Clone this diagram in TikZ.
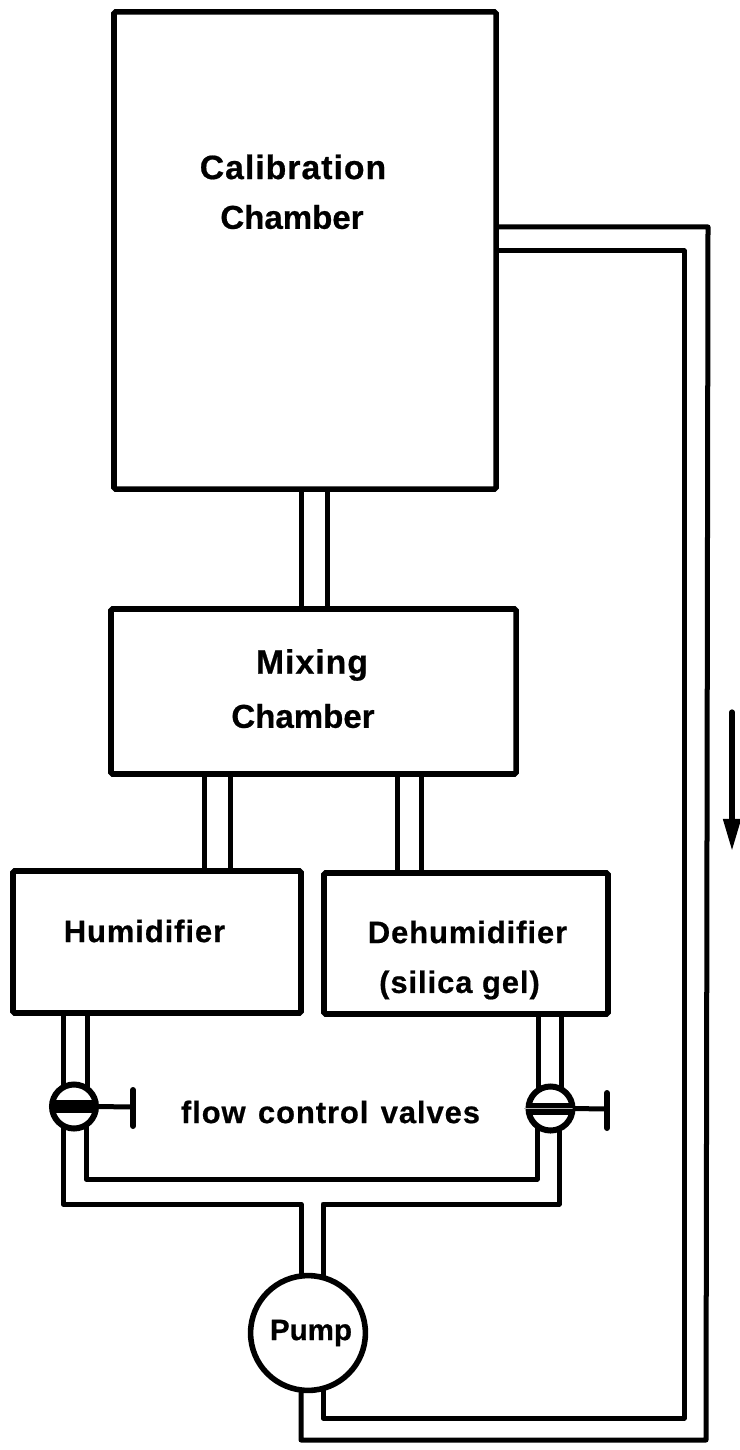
\documentclass[tikz,border=0pt]{standalone}
\usepackage{fontspec}
\setmainfont[LetterSpace=3,BoldFeatures={FakeBold=0.6}]{Liberation Sans}
\usetikzlibrary{arrows.meta}
\tikzset{
    chamber/.style={draw, line width=1.4mm, rounded corners=0.4mm, inner sep=0pt, outer sep=0pt, fill=white},
    lbl/.style={font=\bfseries\fontsize{24}{24}\selectfont, inner sep=0pt},
    lbltight/.style={font=\bfseries\addfontfeatures{LetterSpace=0}\fontsize{23.5}{24}\selectfont, inner sep=0pt},
    lblsmall/.style={font=\bfseries\fontsize{22}{22}\selectfont, inner sep=0pt},
    pipe/.style={line width=1.25mm, line join=round},
    valve/.style={circle, draw, line width=1.5mm, fill=white, minimum size=1.1cm, inner sep=0pt, outer sep=0pt},
    pump/.style={circle, draw, line width=1.4mm, fill=white, minimum size=2.87cm, inner sep=0pt, outer sep=0pt},
}
\begin{document}
\begin{tikzpicture}[x=0.025cm, y=-0.025cm]
    \useasboundingbox (0,0) rectangle (740,1450);

    \node[chamber, minimum width=9.55cm, minimum height=11.925cm] (calib) at (305,250.5) {};
    \node[chamber, minimum width=10.125cm, minimum height=4.125cm] (mixing) at (313.5,691.5) {};
    \node[chamber, minimum width=7.2cm, minimum height=3.55cm] (humid) at (157,942) {};
    \node[chamber, minimum width=7.1cm, minimum height=3.525cm] (dehumid) at (466,943.5) {};
    \node[pump] (pump) at (308,1333) {};
    \node[valve] (lvalve) at (74,1106.5) {};
    \node[valve] (rvalve) at (550.5,1108.5) {};

    \node[lbl] (calibtxt) at (293,167) {Calibration};
    \node[lbltight] (calibtxt2) at (292,217) {Chamber};
    \node[lbl] (mixtxt) at (312,665) {Mixing};
    \node[lbltight] (mixtxt2) at (303,716) {Chamber};
    \node[lblsmall] (humtxt) at (144.5,931) {Humidifier};
    \node[lblsmall] (dehumtxt) at (467.5,932) {Dehumidifier};
    \node[lblsmall] (silicatxt) at (459.5,985) {(silica gel)};
    \node[lblsmall] (flowtxt) at (330.5,1112) {flow\hspace{2pt} control\hspace{2pt} valves};
    \node[font=\bfseries\addfontfeatures{LetterSpace=0}\fontsize{21}{21}\selectfont, inner sep=0pt] (pumptxt) at (311,1333) {Pump};

    % pipes between chambers
    \draw[pipe] (301,0 |- calib.south) -- (301,0 |- mixing.north);
    \draw[pipe] (327,0 |- calib.south) -- (327,0 |- mixing.north);
    \draw[pipe] (204,0 |- mixing.south) -- (204,0 |- humid.north);
    \draw[pipe] (230,0 |- mixing.south) -- (230,0 |- humid.north);
    \draw[pipe] (397,0 |- mixing.south) -- (397,0 |- dehumid.north);
    \draw[pipe] (421,0 |- mixing.south) -- (421,0 |- dehumid.north);

    % down to the valves
    \draw[pipe] (63,0 |- humid.south) -- (63,1088);
    \draw[pipe] (87,0 |- humid.south) -- (87,1088);
    \draw[pipe] (538,0 |- dehumid.south) -- (538,1090);
    \draw[pipe] (561,0 |- dehumid.south) -- (561,1090);

    % valves to the pump
    \draw[pipe] (63,1126) -- (63,1204) -- (301,1204) -- (301,1278);
    \draw[pipe] (86,1126) -- (86,1179) -- (537,1179) -- (537,1128);
    \draw[pipe] (559,1128) -- (559,1204) -- (323,1204) -- (323,1278);

    % return to the calibration chamber
    \draw[pipe] (323,1390) -- (323,1418) -- (684,1418) -- (684,251) -- (calib.east |- 0,251);
    \draw[pipe] (301,1390) -- (301,1440) -- (706,1440) -- (708,227) -- (calib.east |- 0,227);

    % valve bars and handles
    \draw[line width=3.2mm] (lvalve.west) -- (lvalve.east);
    \draw[line width=3mm] (rvalve.west) -- (rvalve.east);
    \draw[line width=0.3mm, gray!60] ([xshift=-19pt]rvalve.center) -- ([xshift=19pt]rvalve.center);
    \coordinate (lhandle) at (133,1107);
    \coordinate (rhandle) at (607,1109);
    \draw[pipe] (lvalve.east) -- (lhandle);
    \draw[pipe] (rvalve.east) -- (rhandle);
    \draw[line width=1.5mm, line cap=round] (133,1090) -- (133,1126);
    \draw[line width=1.5mm, line cap=round] (607,1093) -- (607,1128);

    % flow direction
    \coordinate (flowa) at (732,712);
    \coordinate (flowb) at (732,851);
    \draw[-{Triangle[length=8mm,width=4.2mm]}, line width=1.3mm, line cap=round] (flowa) -- (flowb);
\end{tikzpicture}
\end{document}
